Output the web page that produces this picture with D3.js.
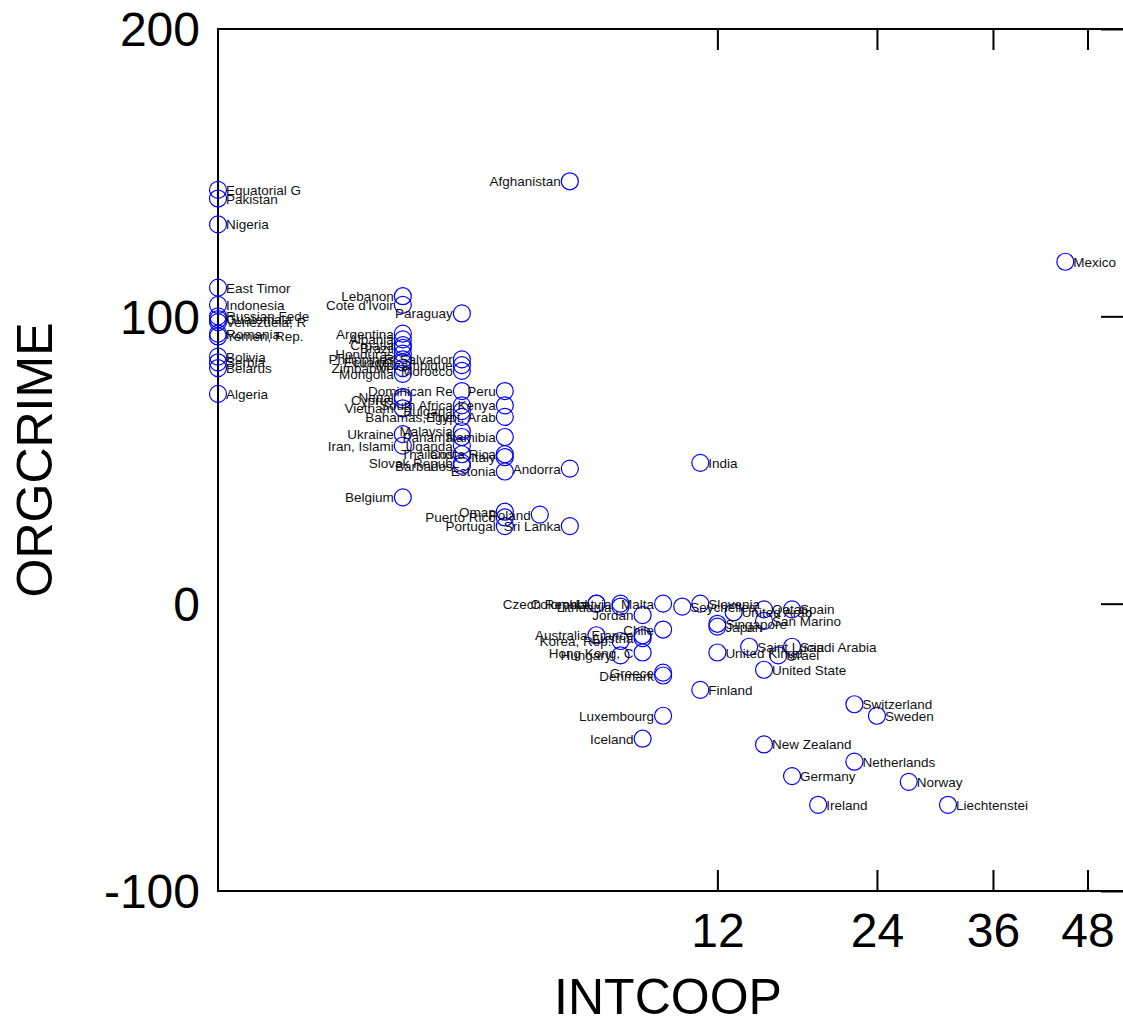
<!DOCTYPE html>
<html><head><meta charset="utf-8">
<script src="https://cdn.jsdelivr.net/npm/d3@7"></script>
<style>
html,body{margin:0;padding:0;background:#fff;overflow:hidden}
text{font-family:"Liberation Sans",Arial,Helvetica,sans-serif}
</style></head>
<body><svg id="c" width="1123" height="1023"></svg>
<script>
// ---- data ----
const countries = [
 "Equatorial G","Pakistan","Nigeria","East Timor","Indonesia","Russian Fede","Guatemala","Venezuela, R","Romania","Yemen, Rep.","Bolivia","Serbia","Belarus","Algeria",
 "Lebanon","Cote d'Ivoir","Argentina","Albania","Croatia","Brazil","Honduras","Philippines","Ecuador","Zimbabwe","Mongolia","Nepal","Cyprus","Vietnam","Ukraine","Iran, Islami","Belgium",
 "Paraguay","El Salvador","Mozambique","Morocco","Dominican Re","South Africa","Bulgaria","Bahamas, The","Malaysia","Panama","Uganda","Thailand","Slovak Repub","Barbados",
 "Peru","Kenya","Egypt, Arab","Namibia","Costa Rica","Italy","Estonia","Oman","Puerto Rico","Portugal",
 "Poland","Afghanistan","Andorra","Sri Lanka",
 "Czech Republ","Colombia","Australia","Latvia","Lithuania","Korea, Rep.","Hungary",
 "Jordan","France","Austria","Hong Kong, C","Iceland",
 "Malta","Chile","Greece","Denmark","Luxembourg","Seychelles",
 "Slovenia","India","Finland","Singapore","Japan","United Kingd","United Arab","Saint Lucia",
 "Qatar","San Marino","United State","New Zealand","Israel","Spain","Saudi Arabia","Germany",
 "Ireland","Switzerland","Netherlands","Sweden","Norway","Liechtenstei","Mexico"
];
const intcoop = [
 0,0,0,0,0,0,0,0,0,0,0,0,0,0,
 1,1,1,1,1,1,1,1,1,1,1,1,1,1,1,1,1,
 2,2,2,2,2,2,2,2,2,2,2,2,2,2,
 3,3,3,3,3,3,3,3,3,3,
 4,5,5,5,
 6,6,6,7,7,7,7,
 8,8,8,8,8,
 9,9,9,9,9,10,
 11,11,11,12,12,12,13,14,
 15,15,15,15,16,17,17,17,
 19,22,22,24,27,31,45
];
const orgcrime = [
 144,141,132,110,104,100,99,98,94,93,86,84,82,73,
 107,104,94,92,90,89,87,85,84,82,80,72,71,68,59,55,37,
 101,85,83,81,74,69,67,65,60,58,55,52,49,48,
 74,69,65,58,52,51,46,32,30,27,
 31,147,47,27,
 0,0,-11,0,-1,-13,-18,
 -4,-11,-12,-17,-47,
 0,-9,-24,-25,-39,-1,
 0,49,-30,-7,-8,-17,-3,-15,
 -2,-6,-23,-49,-18,-2,-15,-60,
 -70,-35,-55,-39,-62,-70,119
];
const xTicks = [12, 24, 36, 48];
const yTicks = [-100, 0, 100, 200];
const xTitle = "INTCOOP", yTitle = "ORGCRIME";

// ---- layout ----
const L = 218, R = 1124, T = 29, B = 891;
const svg = d3.select("#c");
const x = d3.scalePow().exponent(0.4).domain([0, 53.2]).range([L, R]);
const y = d3.scaleLinear().domain([-100, 200]).range([B, T]);
const mid = (L + R) / 2;

const pts = countries.map((n, i) => ({name: n, x: intcoop[i], y: orgcrime[i]}));

// frame
const frame = svg.append("g").attr("stroke", "#000").attr("stroke-width", 2).attr("fill", "none");
frame.append("line").attr("x1", L).attr("x2", L).attr("y1", T - 1).attr("y2", B + 1);
frame.append("line").attr("x1", L).attr("x2", R).attr("y1", T).attr("y2", T);
frame.append("line").attr("x1", L).attr("x2", R).attr("y1", B).attr("y2", B);
frame.append("line").attr("x1", R).attr("x2", R).attr("y1", T).attr("y2", B);

// x axis (bottom, ticks inward) + mirrored top ticks
const xb = svg.append("g").attr("transform", `translate(0,${B})`)
  .call(d3.axisBottom(x).tickValues(xTicks).tickSize(-21).tickPadding(22).tickFormat(d => String(d)));
xb.select(".domain").remove();
xb.selectAll("line").attr("stroke-width", 2);
xb.selectAll("text").attr("font-size", 48).attr("fill", "#000");
svg.append("g").attr("transform", `translate(0,${T})`)
  .call(d3.axisTop(x).tickValues(xTicks).tickSize(-21).tickFormat(""))
  .call(g => { g.select(".domain").remove(); g.selectAll("line").attr("stroke-width", 2); });

// y axis labels (left) + right inward ticks
const yl = svg.append("g").attr("transform", `translate(${L},0)`)
  .call(d3.axisLeft(y).tickValues(yTicks).tickSize(0).tickPadding(18).tickFormat(d => String(d)));
yl.select(".domain").remove();
yl.selectAll("text").attr("font-size", 48).attr("fill", "#000").attr("dy", "0.35em");
svg.append("g").attr("transform", `translate(${R},0)`)
  .call(d3.axisRight(y).tickValues(yTicks).tickSize(-23).tickFormat(""))
  .call(g => { g.select(".domain").remove(); g.selectAll("line").attr("stroke-width", 2); });

// titles
svg.append("text").attr("x", 668).attr("y", 1014).attr("text-anchor", "middle")
  .attr("font-size", 50).text(xTitle);
svg.append("text").attr("transform", "translate(52,460) rotate(-90)").attr("text-anchor", "middle")
  .attr("font-size", 50).text(yTitle);

// points
const g = svg.append("g");
g.selectAll("circle").data(pts).join("circle")
  .attr("cx", d => x(d.x)).attr("cy", d => y(d.y)).attr("r", 8.5)
  .attr("fill", "none").attr("stroke", "#0000ff").attr("stroke-width", 1.2);
g.selectAll("text").data(pts).join("text")
  .attr("x", d => { const px = x(d.x); return (d.x === 0 || px > mid) ? px + 8 : px - 9; })
  .attr("y", d => y(d.y) + 5)
  .attr("text-anchor", d => (d.x === 0 || x(d.x) > mid) ? "start" : "end")
  .attr("font-size", 13.5).attr("fill", "#111").text(d => d.name);
</script></body></html>
